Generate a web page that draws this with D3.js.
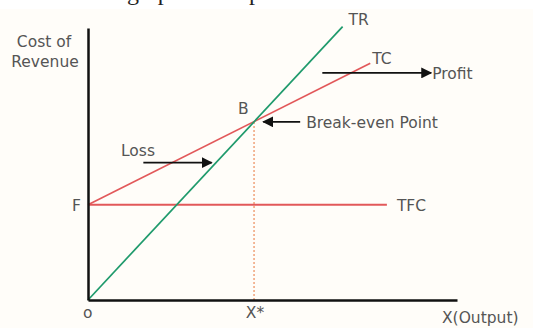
<!DOCTYPE html>
<html lang="en">
<head>
  <meta charset="UTF-8">
  <title>Break-even chart</title>
  <style>
  body { margin: 0; background: #fff; }
  #chart text { font-family: "DejaVu Sans", Verdana, sans-serif; font-size: 15.5px; fill: #555; }
  #chart .caption { font-family: "Liberation Serif", "Times New Roman", serif; font-size: 24px; fill: #222; }
  </style>
</head>
<body>
  <div id="chart"></div>
  <script src="https://d3js.org/d3.v7.min.js"></script>
  <script>
// data, in output / money units
var fixedCost = 3.5;
var breakEven = [4.5, 6.6];             // X*, level at point B
var trLine = [[0, 0], [6.9, 10.05]];    // total revenue
var tcLine = [[0, 3.5], [7.65, 8.7]];   // total cost
var tfcLine = [[0, 3.5], [8.1, 3.5]];   // total fixed cost
var lossArrow = [[1.5, 5.05], [3.35, 5.05]];
var profitArrow = [[6.35, 8.35], [9.3, 8.35]];
var beArrow = [[5.75, 6.55], [4.75, 6.55]];

var w = 533, h = 328;
var x = d3.scaleLinear().domain([0, 10]).range([88, 457]);
var y = d3.scaleLinear().domain([0, 10]).range([300, 28]);

var svg = d3.select("#chart").append("svg")
    .attr("width", w)
    .attr("height", h);

svg.append("rect").attr("width", w).attr("height", h).attr("fill", "#fffdf9");
svg.append("rect").attr("width", w).attr("height", 9).attr("fill", "#fff");

// caption of the page above the picture, only its descenders show
svg.append("text").attr("class", "caption")
    .attr("x", 127).attr("y", 0)
    .text("graph of the point");

svg.append("defs").append("marker")
    .attr("id", "head")
    .attr("viewBox", "0 0 10 10")
    .attr("refX", 9).attr("refY", 5)
    .attr("markerWidth", 11).attr("markerHeight", 11)
    .attr("markerUnits", "userSpaceOnUse")
    .attr("orient", "auto")
  .append("path")
    .attr("d", "M0,0L10,5L0,10Z")
    .attr("fill", "#111");

var line = d3.line().x(function(d) { return x(d[0]); }).y(function(d) { return y(d[1]); });

// dotted drop line from B
svg.append("path")
    .datum([[breakEven[0], 0], breakEven])
    .attr("d", line)
    .attr("stroke", "#f0a27a")
    .attr("stroke-width", 1.5)
    .attr("stroke-dasharray", "2,2")
    .attr("fill", "none");

svg.append("path").datum(tfcLine).attr("d", line)
    .attr("stroke", "#e2585a").attr("stroke-width", 2).attr("fill", "none");
svg.append("path").datum(tcLine).attr("d", line)
    .attr("stroke", "#e2585a").attr("stroke-width", 1.7).attr("fill", "none");
svg.append("path").datum(trLine).attr("d", line)
    .attr("stroke", "#1f9a6c").attr("stroke-width", 1.7).attr("fill", "none");

// axes
var xAxis = d3.axisBottom(x).tickValues([]).tickSizeOuter(0);
var yAxis = d3.axisLeft(y).tickValues([]).tickSizeOuter(0);
svg.append("g").attr("transform", "translate(0," + y(0) + ")").call(xAxis)
    .select(".domain").attr("stroke", "#111").attr("stroke-width", 2.5);
svg.append("g").attr("transform", "translate(" + x(0) + ",0)").call(yAxis)
    .select(".domain").attr("stroke", "#111").attr("stroke-width", 2.5);

// arrows
[lossArrow, profitArrow, beArrow].forEach(function(a) {
  svg.append("path").datum(a).attr("d", line)
      .attr("stroke", "#111").attr("stroke-width", 1.6)
      .attr("fill", "none").attr("marker-end", "url(#head)");
});

// labels
function label(t, px, py, anchor) {
  svg.append("text").attr("x", px).attr("y", py)
      .attr("text-anchor", anchor || "start").text(t);
}
label("Cost of", 44, 47, "middle");
label("Revenue", 45, 67, "middle");
label("TR", x(trLine[1][0]) + 6, y(trLine[1][1]) - 2);
label("TC", x(tcLine[1][0]) + 2, 64);
label("Profit", x(profitArrow[1][0]) + 1, y(profitArrow[1][1]) + 6);
label("B", x(breakEven[0]) - 16, y(breakEven[1]) - 6);
label("Break-even Point", x(beArrow[0][0]) + 6, y(beArrow[0][1]) + 6);
label("Loss", 121, 156);
label("F", x(0) - 16, y(fixedCost) + 6);
label("TFC", x(tfcLine[1][0]) + 10, y(fixedCost) + 6);
label("o", x(0) - 5, 318);
label("X*", x(breakEven[0]) + 1, 318, "middle");
label("X(Output)", 442, 323);
  </script>
</body>
</html>
